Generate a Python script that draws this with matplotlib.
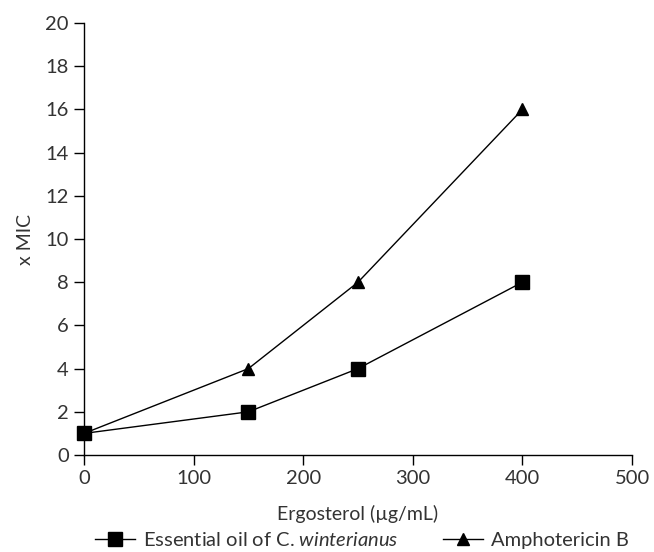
import matplotlib
matplotlib.use("Agg")
import matplotlib.pyplot as plt

plt.rcParams['font.family'] = ['Lato', 'DejaVu Sans']
plt.rcParams['mathtext.fontset'] = 'custom'
plt.rcParams['mathtext.rm'] = 'Lato'
plt.rcParams['mathtext.it'] = 'Lato:italic'

x_ergo = [0, 150, 250, 400]
oil_mic = [1, 2, 4, 8]
ampho_mic = [1, 4, 8, 16]
x_ticks = [0, 100, 200, 300, 400, 500]
y_ticks = [0, 2, 4, 6, 8, 10, 12, 14, 16, 18, 20]

fig = plt.figure(figsize=(6.54, 5.52), dpi=100)
ax = fig.add_axes([0.1284, 0.1757, 0.838, 0.7826])

ax.plot(x_ergo, oil_mic, color='black', lw=1.0, marker='s', markersize=10,
        label=r'Essential oil of C. $\mathit{winterianus}$', clip_on=False, zorder=3)
ax.plot(x_ergo, ampho_mic, color='black', lw=1.0, marker='^', markersize=9,
        label='Amphotericin B', clip_on=False, zorder=3)

ax.set_xlim(0, 500)
ax.set_ylim(0, 20)
ax.set_xticks(x_ticks)
ax.set_yticks(y_ticks)
for s in ['top', 'right']:
    ax.spines[s].set_visible(False)
for s in ['left', 'bottom']:
    ax.spines[s].set_linewidth(1.0)
ax.tick_params(direction='out', length=7, width=1.0, labelsize=14.5,
               labelcolor='#333333', pad=4)
ax.set_xlabel('Ergosterol (µg/mL)', fontsize=14, color='#333333', labelpad=13)
ax.set_ylabel('x MIC', fontsize=14, color='#333333', labelpad=8)

fig.legend(loc='lower center', bbox_to_anchor=(0.553, -0.028), ncol=2, frameon=False,
           fontsize=14.5, handlelength=2.0, columnspacing=2.2, handletextpad=0.4,
           labelcolor='#333333')

fig.savefig('out.png', dpi=100)
